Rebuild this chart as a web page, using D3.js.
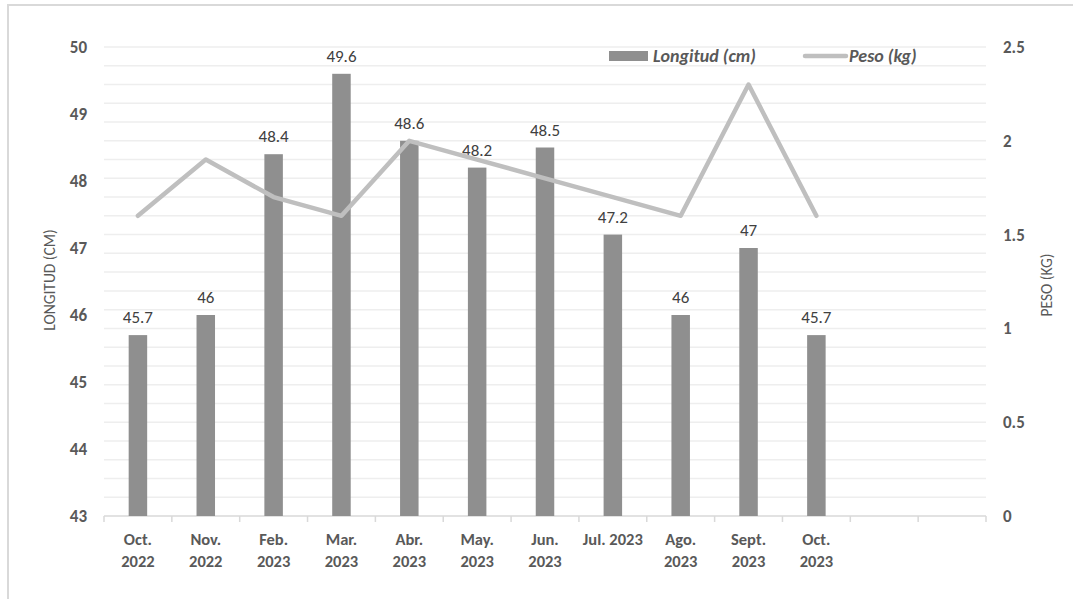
<!DOCTYPE html>
<html>
<head>
<meta charset="utf-8">
<script src="https://cdn.jsdelivr.net/npm/d3@7"></script>
<style>
  html, body { margin: 0; padding: 0; background: #fff; }
  svg { display: block; }
  text { font-family: Carlito, Calibri, Lato, "Open Sans", sans-serif; }
</style>
</head>
<body>
<script>
// Monthly length (cm) and weight (kg) measurements
const categories = [
  ["Oct.", "2022"], ["Nov.", "2022"], ["Feb.", "2023"], ["Mar.", "2023"],
  ["Abr.", "2023"], ["May.", "2023"], ["Jun.", "2023"], ["Jul. 2023"],
  ["Ago.", "2023"], ["Sept.", "2023"], ["Oct.", "2023"], [""], [" "]
];
const longitud = [45.7, 46, 48.4, 49.6, 48.6, 48.2, 48.5, 47.2, 46, 47, 45.7];
const peso = [1.6, 1.9, 1.7, 1.6, 2.0, 1.9, 1.8, 1.7, 1.6, 2.3, 1.6];
const leftTicks = [43, 44, 45, 46, 47, 48, 49, 50];
const rightTicks = [0, 0.5, 1, 1.5, 2, 2.5];
const gridTicks = d3.range(0, 26).map(i => i / 10);

const W = 1073, H = 599;
const m = { left: 104, right: 986, top: 47, bottom: 516 };

const svg = d3.select("body").append("svg").attr("width", W).attr("height", H);

// outer chart frame
svg.append("rect").attr("x", 8).attr("y", 5).attr("width", W + 20).attr("height", H + 20)
  .attr("fill", "none").attr("stroke", "#d9d9d9").attr("stroke-width", 2);

const keys = categories.map((c, i) => i);
const x = d3.scaleBand().domain(keys).range([m.left, m.right]);
const yL = d3.scaleLinear().domain([43, 50]).range([m.bottom, m.top]);
const yR = d3.scaleLinear().domain([0, 2.5]).range([m.bottom, m.top]);

// horizontal gridlines (every 0.1 kg on the secondary axis)
svg.append("g").selectAll("line").data(gridTicks.filter(d => d > 0)).join("line")
  .attr("x1", m.left).attr("x2", m.right)
  .attr("y1", d => yR(d)).attr("y2", d => yR(d))
  .attr("stroke", "#eeeeee").attr("stroke-width", 1.5);

// category axis
const xAxis = svg.append("g").attr("transform", `translate(0,${m.bottom})`);
xAxis.append("line").attr("x1", m.left).attr("x2", m.right).attr("y1", 0).attr("y2", 0)
  .attr("stroke", "#d9d9d9").attr("stroke-width", 1.5);
xAxis.selectAll("line.tk").data(d3.range(0, categories.length + 1)).join("line")
  .attr("class", "tk")
  .attr("x1", i => m.left + i * x.step()).attr("x2", i => m.left + i * x.step())
  .attr("y1", 0).attr("y2", 6).attr("stroke", "#d9d9d9").attr("stroke-width", 1.5);

const xl = svg.append("g").selectAll("text").data(categories).join("text")
  .attr("x", (d, i) => x(i) + x.bandwidth() / 2)
  .attr("y", 545)
  .attr("text-anchor", "middle")
  .attr("fill", "#595959").attr("font-size", 16.5).attr("font-weight", "bold");
xl.selectAll("tspan").data(d => d).join("tspan")
  .attr("x", function () { return d3.select(this.parentNode).attr("x"); })
  .attr("dy", (d, j) => j === 0 ? 0 : 22)
  .text(d => d);

// bars
const barW = 18.5;
svg.append("g").selectAll("rect").data(longitud).join("rect")
  .attr("x", (d, i) => x(i) + x.bandwidth() / 2 - barW / 2)
  .attr("y", d => yL(d))
  .attr("width", barW)
  .attr("height", d => yL(43) - yL(d))
  .attr("fill", "#8f8f8f");

// bar value labels
svg.append("g").selectAll("text").data(longitud).join("text")
  .attr("x", (d, i) => x(i) + x.bandwidth() / 2)
  .attr("y", d => yL(d) - 12)
  .attr("text-anchor", "middle")
  .attr("fill", "#404040").attr("font-size", 17)
  .text(d => d);

// weight line
const line = d3.line().x((d, i) => x(i) + x.bandwidth() / 2).y(d => yR(d));
svg.append("path").datum(peso).attr("d", line)
  .attr("fill", "none").attr("stroke", "#bfbfbf").attr("stroke-width", 4.5)
  .attr("stroke-linejoin", "round").attr("stroke-linecap", "round");

// left axis
svg.append("g").selectAll("text").data(leftTicks).join("text")
  .attr("x", 87).attr("y", d => yL(d)).attr("dy", "0.35em")
  .attr("text-anchor", "end").attr("fill", "#595959")
  .attr("font-size", 17).attr("font-weight", "bold")
  .text(d => d);

// right axis
svg.append("g").selectAll("text").data(rightTicks).join("text")
  .attr("x", 1003).attr("y", d => yR(d)).attr("dy", "0.35em")
  .attr("text-anchor", "start").attr("fill", "#595959")
  .attr("font-size", 17).attr("font-weight", "bold")
  .text(d => d);

// axis titles
svg.append("text").attr("transform", "translate(55,280) rotate(-90)")
  .attr("text-anchor", "middle").attr("fill", "#595959").attr("font-size", 15.5)
  .text("LONGITUD (CM)");
svg.append("text").attr("transform", "translate(1052,285) rotate(-90)")
  .attr("text-anchor", "middle").attr("fill", "#595959").attr("font-size", 15.5)
  .text("PESO (KG)");

// legend
const lg = svg.append("g");
lg.append("rect").attr("x", 609).attr("y", 51).attr("width", 39).attr("height", 10).attr("fill", "#8f8f8f");
lg.append("text").attr("x", 653).attr("y", 62).attr("fill", "#595959")
  .attr("font-size", 18).attr("font-weight", "bold").attr("font-style", "italic")
  .text("Longitud (cm)");
lg.append("line").attr("x1", 805).attr("x2", 846).attr("y1", 56).attr("y2", 56)
  .attr("stroke", "#bfbfbf").attr("stroke-width", 4.5).attr("stroke-linecap", "round");
lg.append("text").attr("x", 849).attr("y", 62).attr("fill", "#595959")
  .attr("font-size", 18).attr("font-weight", "bold").attr("font-style", "italic")
  .text("Peso (kg)");
</script>
</body>
</html>
